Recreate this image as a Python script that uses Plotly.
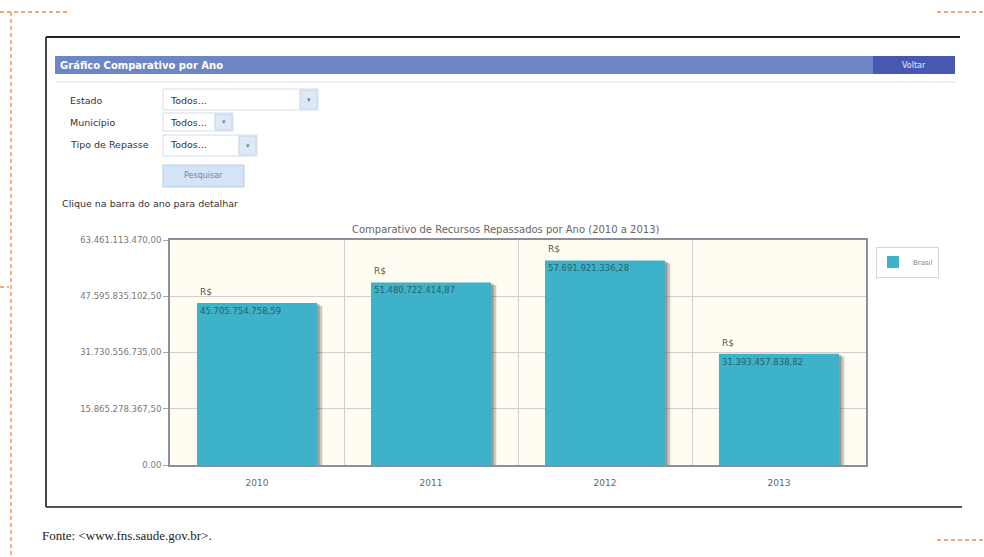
import plotly.graph_objects as go

W, H = 984, 557

years = ["2010", "2011", "2012", "2013"]
values = [45705754758.59, 51480722414.87, 57691921336.28, 31393457838.82]
value_labels = ["45.705.754.758,59", "51.480.722.414,87", "57.691.921.336,28", "31.393.457.838,82"]
y_max = 63461113470.0
tick_vals = [0, 15865278367.5, 31730556735.0, 47595835102.5, 63461113470.0]
tick_text = ["0.00", "15.865.278.367,50", "31.730.556.735,00", "47.595.835.102,50", "63.461.113.470,00"]
series_name = "Brasil"
chart_title = "Comparativo de Recursos Repassados por Ano (2010 a 2013)"


def px(x):
    return x / W


def py(y):
    return 1 - y / H


BAR_W = 0.69
BAR_COLOR = "#3db2c8"
FONT = "DejaVu Sans"

fig = go.Figure()

# soft shadow behind bars
shadow_drop = y_max * 0.012
fig.add_trace(go.Bar(
    x=years, y=[v - shadow_drop for v in values], width=BAR_W, offset=-BAR_W / 2 + 0.03,
    marker=dict(color="rgba(70,70,70,0.28)", line=dict(width=0)),
    showlegend=False, hoverinfo="skip"))
fig.add_trace(go.Bar(
    x=years, y=[v - shadow_drop * 0.5 for v in values], width=BAR_W, offset=-BAR_W / 2 + 0.015,
    marker=dict(color="rgba(70,70,70,0.35)", line=dict(width=0)),
    showlegend=False, hoverinfo="skip"))
fig.add_trace(go.Bar(
    x=years, y=values, width=BAR_W, offset=-BAR_W / 2, name=series_name,
    marker=dict(color=BAR_COLOR, line=dict(width=0))))

annotations = []
for i, (v, lab) in enumerate(zip(values, value_labels)):
    annotations.append(dict(x=i - BAR_W / 2 + 0.005, y=v, xref="x", yref="y", text="R$",
                            showarrow=False, xanchor="left", yanchor="bottom", yshift=4,
                            font=dict(family=FONT, size=9, color="#555")))
    annotations.append(dict(x=i - BAR_W / 2 + 0.005, y=v, xref="x", yref="y", text=lab,
                            showarrow=False, xanchor="left", yanchor="top", yshift=-1,
                            font=dict(family=FONT, size=8.5, color="#2a5f6c")))

shapes = []


def rect(x0, y0, x1, y1, fill, line_color=None, lw=0):
    shapes.append(dict(type="rect", xref="paper", yref="paper", x0=px(x0), x1=px(x1),
                       y0=py(y1), y1=py(y0), fillcolor=fill,
                       line=dict(color=line_color or fill, width=lw), layer="below"))


def line(x0, y0, x1, y1, color, width=1, dash="solid"):
    shapes.append(dict(type="line", xref="paper", yref="paper", x0=px(x0), x1=px(x1),
                       y0=py(y0), y1=py(y1), line=dict(color=color, width=width, dash=dash)))


def text(x, y, s, size=10, color="#333", anchor="left", bold=False, family=FONT):
    annotations.append(dict(x=px(x), y=py(y), xref="paper", yref="paper",
                            text=f"<b>{s}</b>" if bold else s, showarrow=False,
                            xanchor=anchor, yanchor="middle",
                            font=dict(family=family, size=size, color=color)))


# orange dashed page guides
ORANGE = "#f08a4b"
DASH = "4px,3px"
line(0, 12, 70, 12, ORANGE, 1.3, DASH)
line(11, 12, 11, 557, ORANGE, 1.3, DASH)
line(0, 287, 9, 287, ORANGE, 1.3, DASH)
line(937, 12, 984, 12, ORANGE, 1.3, DASH)
line(937, 540, 984, 540, ORANGE, 1.3, DASH)

# screenshot frame
line(46, 37, 960, 37, "#222", 2)
line(46, 37, 46, 507, "#444", 2)
line(46, 507, 962, 507, "#555", 2)

# title bar
rect(55, 56, 873, 74, "#6d86c5")
rect(873, 56, 955, 74, "#4757b2")
line(55, 82, 955, 82, "#dde2ee", 1)
text(58, 65, "Gráfico Comparativo por Ano", 10, "white", bold=True)
text(914, 65, "Voltar", 8, "#e8ecff", anchor="center")

# form
text(68, 100, "Estado", 9.5, "#333")
text(68, 122, "Município", 9.5, "#333")
text(68, 145, "Tipo de Repasse", 9.5, "#333")
for (x0, y0, x1, y1, y) in [(163, 89, 318, 110, 100), (163, 113, 233, 131, 122), (163, 135, 257, 156, 145)]:
    rect(x0, y0, x1, y1, "white", "#d5dbe6", 1)
    rect(x1 - 18, y0 + 1, x1 - 1, y1 - 1, "#dde9f7", "#c7d5e8", 1)
    text(x1 - 9.5, (y0 + y1) / 2, "▾", 7, "#6b7fa6", anchor="center")
    text(168, y, "Todos...", 9.5, "#333")
rect(163, 165, 244, 187, "#d3e4f6", "#b9cde6", 1)
text(203.5, 176, "Pesquisar", 8, "#6a84b6", anchor="center")
text(60, 204, "Clique na barra do ano para detalhar", 9.5, "#333")

# chart title
text(506, 229, chart_title, 10, "#666", anchor="center")

# source note
text(40, 535, "Fonte: &lt;www.fns.saude.gov.br&gt;.", 13, "#222", family="Liberation Serif")

fig.update_layout(
    width=W, height=H, margin=dict(l=0, r=0, t=0, b=0, pad=0, autoexpand=False),
    paper_bgcolor="white", plot_bgcolor="#fffcf2",
    barmode="overlay", bargap=0.31,
    showlegend=True,
    legend=dict(x=px(876), y=py(262), xanchor="left", yanchor="middle",
                bgcolor="white", bordercolor="#d6d6d6", borderwidth=1,
                font=dict(family=FONT, size=7, color="#888"),
                itemwidth=30, tracegroupgap=0, indentation=-4),
    xaxis=dict(domain=[px(170), px(866)], type="category", categoryorder="array",
               categoryarray=years, tickson="boundaries", showgrid=True,
               gridcolor="#cfcfcf", gridwidth=1, ticks="", showline=True,
               linecolor="#8e8e9c", linewidth=2, mirror=True, ticklabelstandoff=8,
               tickfont=dict(family=FONT, size=9, color="#666"), range=[-0.5, 3.5]),
    yaxis=dict(domain=[py(465), py(240)], range=[0, y_max], tickvals=tick_vals,
               ticktext=tick_text, showgrid=True, gridcolor="#cfcfcf", gridwidth=1,
               zeroline=False, showline=True, linecolor="#8e8e9c", linewidth=2, mirror=True,
               ticks="outside", ticklen=5, tickcolor="#aaa",
               tickfont=dict(family=FONT, size=8.5, color="#777")),
    shapes=shapes, annotations=annotations,
)

fig.write_html("out.html")
